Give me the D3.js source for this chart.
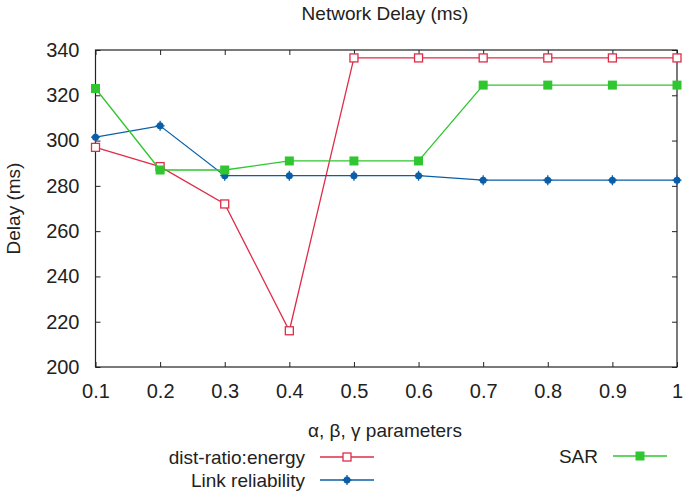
<!DOCTYPE html>
<html>
<head>
<meta charset="utf-8">
<script src="https://cdn.jsdelivr.net/npm/d3@7"></script>
<style>
  body { margin: 0; background: #fff; }
  text { font-family: "Liberation Sans", Arial, sans-serif; fill: #222; }
</style>
</head>
<body>
<div id="chart"></div>
<script>
// data
const params = [0.1, 0.2, 0.3, 0.4, 0.5, 0.6, 0.7, 0.8, 0.9, 1];
const distRatio = [297, 288.5, 272, 216, 336.5, 336.5, 336.5, 336.5, 336.5, 336.5];
const linkRel = [301.5, 306.5, 284.5, 284.5, 284.5, 284.5, 282.5, 282.5, 282.5, 282.5];
const sar = [323, 287, 287, 291, 291, 291, 324.5, 324.5, 324.5, 324.5];
const yTicks = [200, 220, 240, 260, 280, 300, 320, 340];
const xTickLabels = ["0.1", "0.2", "0.3", "0.4", "0.5", "0.6", "0.7", "0.8", "0.9", "1"];

const width = 685, height = 493;
const m = {left: 95.5, right: 8, top: 50, bottom: 126};

const svg = d3.select("#chart").append("svg")
    .attr("width", width)
    .attr("height", height);

const x = d3.scaleLinear().domain([0.1, 1]).range([m.left, width - m.right]);
const y = d3.scaleLinear().domain([200, 340]).range([height - m.bottom, m.top]);

// ticks on all four sides, pointing in
const tickLen = 5;
const g = svg.append("g");
g.append("g")
    .attr("transform", "translate(0," + y(200) + ")")
    .call(d3.axisBottom(x).tickValues(params).tickSizeInner(-tickLen).tickSizeOuter(0)
        .tickPadding(17).tickFormat((d, i) => xTickLabels[i]));
g.append("g")
    .attr("transform", "translate(0," + y(340) + ")")
    .call(d3.axisTop(x).tickValues(params).tickSizeInner(-tickLen).tickSizeOuter(0).tickFormat(""));
g.append("g")
    .attr("transform", "translate(" + x(0.1) + ",0)")
    .call(d3.axisLeft(y).tickValues(yTicks).tickSizeInner(-tickLen).tickSizeOuter(0).tickPadding(16));
g.append("g")
    .attr("transform", "translate(" + x(1) + ",0)")
    .call(d3.axisRight(y).tickValues(yTicks).tickSizeInner(-tickLen).tickSizeOuter(0).tickFormat(""));
g.selectAll(".domain").remove();
g.selectAll(".tick line").attr("stroke", "#222");
g.selectAll(".tick text").style("font-size", "20px").attr("fill", "#222");

svg.append("rect")
    .attr("x", x(0.1)).attr("y", y(340))
    .attr("width", x(1) - x(0.1)).attr("height", y(200) - y(340))
    .attr("fill", "none").attr("stroke", "#222").attr("stroke-width", 1.2);

const series = [
  {name: "dist-ratio:energy", values: distRatio, color: "#de2d48", marker: "open"},
  {name: "Link reliability", values: linkRel, color: "#0b5fa8", marker: "star"},
  {name: "SAR", values: sar, color: "#2fc62f", marker: "filled"}
];

const line = d3.line().x((d, i) => x(params[i])).y(d => y(d));

function drawMarker(sel, s, cx, cy) {
  if (s.marker === "open") {
    sel.append("rect").attr("x", cx - 4).attr("y", cy - 4).attr("width", 8).attr("height", 8)
      .attr("fill", "#fff").attr("stroke", s.color).attr("stroke-width", 1.3);
  } else if (s.marker === "filled") {
    sel.append("rect").attr("x", cx - 4.5).attr("y", cy - 4.5).attr("width", 9).attr("height", 9)
      .attr("fill", s.color);
  } else {
    sel.append("circle").attr("cx", cx).attr("cy", cy).attr("r", 3.5).attr("fill", s.color);
    sel.append("path").attr("d", `M${cx},${cy - 5}V${cy + 5}M${cx - 4.5},${cy}H${cx + 4.5}`)
      .attr("stroke", s.color).attr("stroke-width", 1.3);
  }
}

// draw in order: red, blue, green (green on top)
series.forEach(s => {
  svg.append("path").datum(s.values).attr("d", line)
    .attr("fill", "none").attr("stroke", s.color).attr("stroke-width", 1.3);
  const mg = svg.append("g");
  s.values.forEach((v, i) => drawMarker(mg, s, x(params[i]), y(v)));
});

// titles
svg.append("text").attr("x", 385).attr("y", 20).attr("text-anchor", "middle")
  .style("font-size", "19px").text("Network Delay (ms)");
svg.append("text").attr("transform", "translate(20," + (y(270)) + ") rotate(-90)")
  .attr("text-anchor", "middle").style("font-size", "19px").text("Delay (ms)");
svg.append("text").attr("x", 385).attr("y", 437).attr("text-anchor", "middle")
  .style("font-size", "19px").text("α, β, γ parameters");

// legend
const legend = [
  {s: series[0], tx: 305, lx: 320, ly: 457},
  {s: series[1], tx: 305, lx: 320, ly: 480},
  {s: series[2], tx: 598, lx: 613, ly: 456}
];
legend.forEach(l => {
  svg.append("text").attr("x", l.tx).attr("y", l.ly + 7).attr("text-anchor", "end")
    .style("font-size", "19px").text(l.s.name);
  svg.append("line").attr("x1", l.lx).attr("x2", l.lx + 54).attr("y1", l.ly).attr("y2", l.ly)
    .attr("stroke", l.s.color).attr("stroke-width", 1.3);
  drawMarker(svg.append("g"), l.s, l.lx + 27, l.ly);
});
</script>
</body>
</html>
